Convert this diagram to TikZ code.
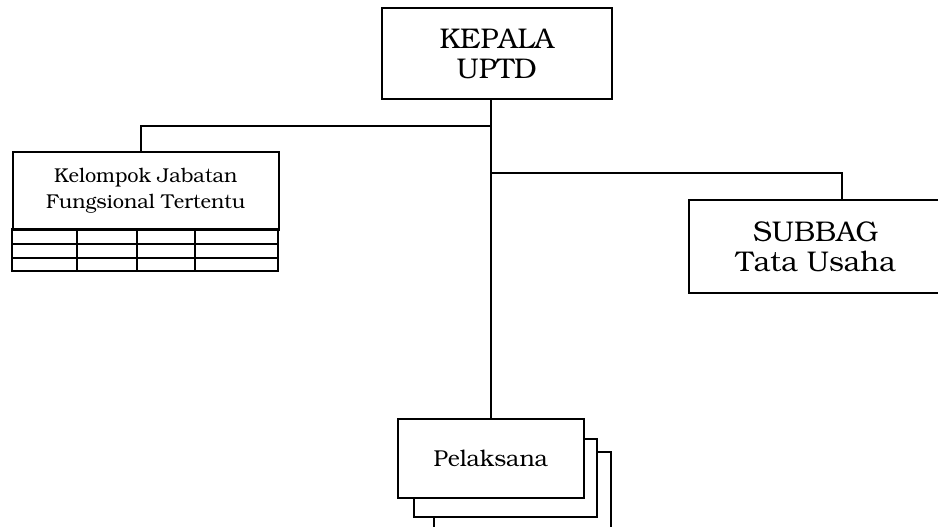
\documentclass[tikz,border=0pt]{standalone}
\usepackage[T1]{fontenc}
\usepackage{bookman}
\begin{document}
\begin{tikzpicture}[x=1pt,y=-1pt]
  % Styles
  \tikzset{
    obox/.style={draw, line width=1.6pt, fill=white, inner sep=0pt,
                 anchor=north west, align=center},
    link/.style={line width=1.6pt},
    tline/.style={line width=1.4pt},
  }
  %
  \def\bigf{\fontsize{28.5}{30}\selectfont}
  \def\midf{\fontsize{20}{25.5}\selectfont}
  \def\pelf{\fontsize{23}{26}\selectfont}
  %
  \useasboundingbox (0,0) rectangle (938,527);
  \clip (0,0) rectangle (938,527);
  %
  %%% BOXES %%%
  \node[obox, minimum width=230pt, minimum height=91pt, font=\bigf] (kepala) at (381,7) {KEPALA\\UPTD};
  %
  % Jabatan fungsional with its table
  \node[obox, minimum width=266pt, minimum height=78pt, font=\midf] (kjf) at (12,151) {Kelompok Jabatan\\Fungsional Tertentu};
  \draw[tline] (12,229) rectangle (278,271);
  \foreach \y in {244,258} {
    \draw[tline] (12,\y) -- (278,\y);
  }
  \foreach \x in {77,137,195} {
    \draw[tline] (\x,229) -- (\x,271);
  }
  %
  % Subbag (runs off the right edge)
  \node[obox, minimum width=254pt, minimum height=93pt, font=\bigf] (subbag) at (688,199) {SUBBAG\\Tata Usaha};
  %
  % Pelaksana stack
  \node[obox, minimum width=177pt, minimum height=90pt] (pel3) at (433,451) {};
  \node[obox, minimum width=183pt, minimum height=78pt] (pel2) at (413,438) {};
  \node[obox, minimum width=186pt, minimum height=79pt, font=\pelf] (pel) at (397,418) {Pelaksana};
  %
  %%% LINES %%%
  \coordinate (jl) at (490,126);
  \coordinate (jr) at (490,173);
  \draw[link] (kepala.south -| pel.north) -- (pel.north);
  \draw[link] (jl) -| ([xshift=-5pt]kjf.north);
  \draw[link] (jr) -| ([xshift=26pt]subbag.north);
\end{tikzpicture}
\end{document}
